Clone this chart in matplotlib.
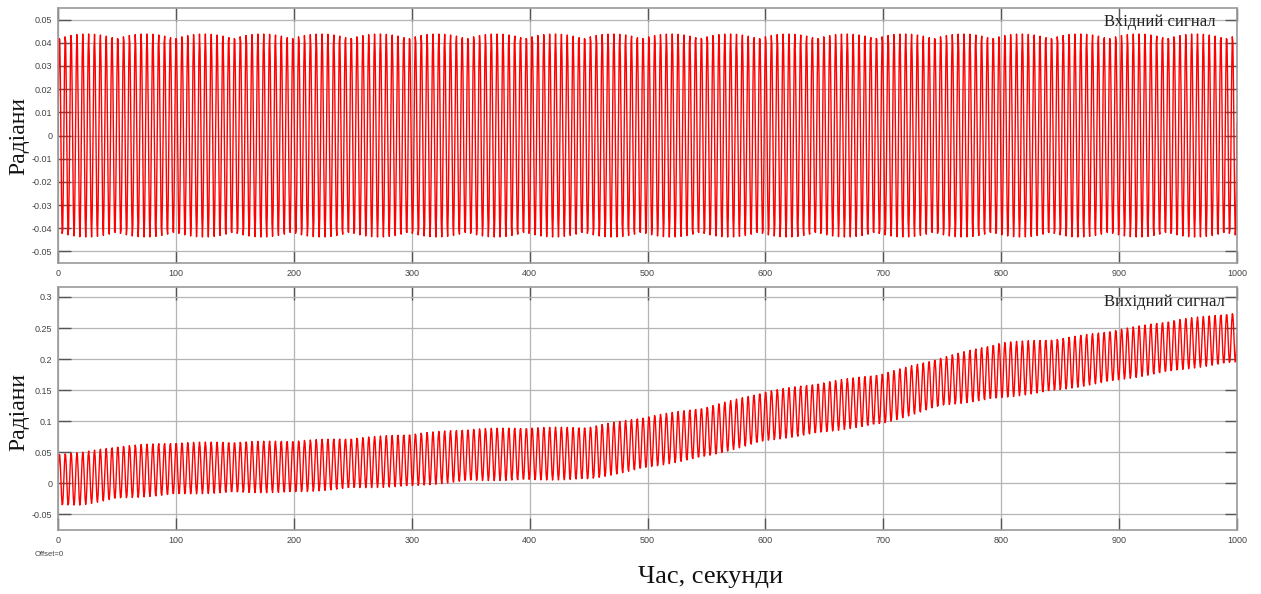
import numpy as np
import matplotlib
matplotlib.use("Agg")
import matplotlib.pyplot as plt

# ---- signal description -------------------------------------------------
t_end = 1000.0          # simulation length, s
sample_dt = 0.5         # solver output step, s
period = 4.95           # oscillation period, s

# input: pure harmonic with constant amplitude
input_amplitude = 0.0438

# output: envelope of the oscillation (upper / lower peaks) at knot times
env_t = [0, 20, 50, 100, 150, 200, 250, 300, 350, 400, 450,
         500, 550, 600, 650, 700, 750, 800, 850, 900, 950, 1000]
env_upper = [0.048, 0.050, 0.060, 0.066, 0.067, 0.069, 0.073, 0.080, 0.088, 0.090, 0.091,
             0.108, 0.123, 0.148, 0.163, 0.177, 0.203, 0.227, 0.233, 0.248, 0.264, 0.275]
env_lower = [-0.036, -0.035, -0.025, -0.018, -0.015, -0.015, -0.008, -0.005, 0.004, 0.005, 0.006,
             0.025, 0.043, 0.068, 0.082, 0.096, 0.125, 0.137, 0.150, 0.166, 0.182, 0.195]

x_ticks = [0, 100, 200, 300, 400, 500, 600, 700, 800, 900, 1000]
y_ticks_in = [-0.05, -0.04, -0.03, -0.02, -0.01, 0, 0.01, 0.02, 0.03, 0.04, 0.05]
y_labels_in = ["-0.05", "-0.04", "-0.03", "-0.02", "-0.01", "0",
               "0.01", "0.02", "0.03", "0.04", "0.05"]
y_ticks_out = [-0.05, 0, 0.05, 0.1, 0.15, 0.2, 0.25, 0.3]
y_labels_out = ["-0.05", "0", "0.05", "0.1", "0.15", "0.2", "0.25", "0.3"]

title_in = "Вхідний сигнал"
title_out = "Вихідний сигнал"
ylabel = "Радіани"
xlabel = "Час, секунди"
offset_text = "Offset=0"

# ---- build sampled traces ----------------------------------------------
t = np.arange(0.0, t_end + sample_dt, sample_dt)
phase = np.sin(2 * np.pi * t / period)
y_in = input_amplitude * phase

up = np.interp(t, env_t, env_upper)
lo = np.interp(t, env_t, env_lower)
y_out = (up + lo) / 2 + (up - lo) / 2 * phase

# ---- figure ------------------------------------------------------------
W, H = 1261, 594
fig = plt.figure(figsize=(W / 100, H / 100), dpi=100)
fig.patch.set_facecolor("white")

serif = ["Liberation Serif", "DejaVu Serif"]
sans = ["Liberation Sans", "DejaVu Sans"]

def frame(px_left, px_top, px_right, px_bottom):
    return [px_left / W, 1 - px_bottom / H, (px_right - px_left) / W, (px_bottom - px_top) / H]

ax1 = fig.add_axes(frame(58, 8, 1237, 263))
ax2 = fig.add_axes(frame(58, 287, 1237, 530))

def style(ax, yticks, ylabels, ylim):
    ax.set_xlim(0, 1000)
    ax.set_ylim(*ylim)
    ax.set_xticks(x_ticks)
    ax.set_xticklabels([str(v) for v in x_ticks], fontsize=6.5, color="#444444",
                       family=sans)
    ax.set_yticks(yticks)
    ax.set_yticklabels(ylabels, fontsize=6.5, color="#444444", family=sans)
    ax.tick_params(direction="in", length=9, width=1.0, color="#555555",
                   top=True, right=True, pad=4)
    ax.grid(True, color="#b4b4b4", linewidth=0.9)
    ax.set_axisbelow(True)
    for s in ax.spines.values():
        s.set_color("#9a9a9a")
        s.set_linewidth(1.2)
    ax.set_facecolor("white")

style(ax1, y_ticks_in, y_labels_in, (-0.055, 0.055))
style(ax2, y_ticks_out, y_labels_out, (-0.075, 0.316))

ax1.plot(t, y_in, color="#ff0000", linewidth=1.0)
ax2.plot(t, y_out, color="#ff0000", linewidth=1.0)

ax1.text(0.982, 0.945, title_in, transform=ax1.transAxes, ha="right", va="center",
         fontsize=12, family=serif, color="#222222")
ax2.text(0.990, 0.94, title_out, transform=ax2.transAxes, ha="right", va="center",
         fontsize=12, family=serif, color="#222222")

fig.text(19 / W, 1 - 136 / H, ylabel, rotation=90, ha="center", va="center",
         fontsize=17, family=serif, color="#111111")
fig.text(19 / W, 1 - 412 / H, ylabel, rotation=90, ha="center", va="center",
         fontsize=17, family=serif, color="#111111")
fig.text(711 / W, 1 - 577 / H, xlabel, ha="center", va="center",
         fontsize=19, family=serif, color="#111111")
fig.text(35 / W, 1 - 554 / H, offset_text, ha="left", va="center",
         fontsize=5.5, family=sans, color="#444444")

fig.savefig("out.png", dpi=100, facecolor="white")
